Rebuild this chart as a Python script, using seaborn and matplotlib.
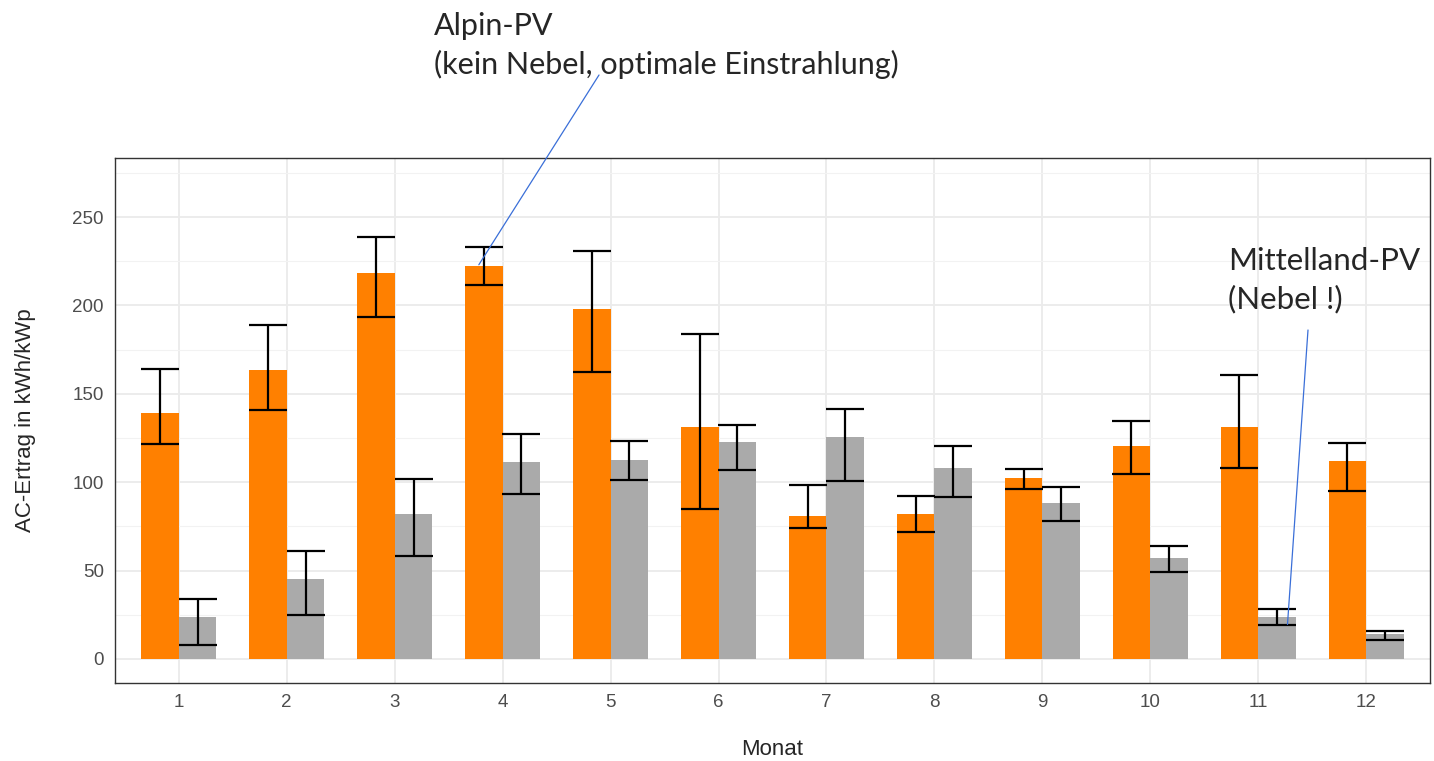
import matplotlib
matplotlib.use("Agg")
import matplotlib.pyplot as plt
import numpy as np
import pandas as pd
import seaborn as sns

# Monthly AC yield per site (kWh/kWp)
months = list(range(1, 13))
alpin_mean = [139, 163.5, 218.5, 222.5, 198, 131, 81, 82, 102.5, 120.5, 131, 112]
alpin_low = [121.5, 141, 193.5, 211.5, 162.5, 85, 74, 72, 96, 104.5, 108, 95]
alpin_high = [164, 189, 238.5, 233, 231, 184, 98.5, 92, 107.5, 134.5, 160.5, 122]
mittel_mean = [23.5, 45, 82, 111.5, 112.5, 122.5, 125.5, 108, 88.5, 57, 23.5, 14]
mittel_low = [8, 25, 58, 93.5, 101.5, 107, 100.5, 91.5, 78, 49, 19, 11]
mittel_high = [34, 61, 102, 127.5, 123.5, 132.5, 141.5, 120.5, 97, 64, 28.5, 16]
sites = ["Alpin-PV", "Mittelland-PV"]

df = pd.DataFrame({
    "Monat": months * 2,
    "Ertrag": alpin_mean + mittel_mean,
    "Anlage": [sites[0]] * 12 + [sites[1]] * 12,
})

sns.set_style("white")
plt.rcParams["font.family"] = ["Liberation Sans", "DejaVu Sans"]

fig = plt.figure(figsize=(14.34, 7.61), dpi=100)
ax = fig.add_axes([0.0802, 0.1025, 0.9170, 0.6899])

sns.barplot(data=df, x="Monat", y="Ertrag", hue="Anlage",
            palette=["#FF8000", "#AAAAAA"], width=0.7, saturation=1,
            errorbar=None, legend=False, linewidth=0, ax=ax, zorder=2)

# error bars from low/high bounds, placed on the drawn bars
lows = [alpin_low, mittel_low]
highs = [alpin_high, mittel_high]
means = [alpin_mean, mittel_mean]
for cont, lo, hi, mu in zip(ax.containers, lows, highs, means):
    xs = [p.get_x() + p.get_width() / 2 for p in cont.patches]
    mu = np.array(mu)
    yerr = [mu - np.array(lo), np.array(hi) - mu]
    ax.errorbar(xs, mu, yerr=yerr, fmt="none", ecolor="black",
                elinewidth=1.6, capsize=13.7, capthick=1.6, zorder=3)

ax.set_xlim(-0.59, 11.59)
ax.set_ylim(-13.6, 283.4)
ax.set_yticks(range(0, 251, 50))
ax.set_yticks(range(25, 276, 50), minor=True)
ax.set_xticks(range(12))
ax.set_xticklabels([str(m) for m in months])

ax.grid(which="major", color="#EBEBEB", lw=1.3, zorder=0)
ax.grid(which="minor", axis="y", color="#F2F2F2", lw=0.8, zorder=0)
ax.set_axisbelow(True)
for s in ax.spines.values():
    s.set_color("#333333")
    s.set_linewidth(1.0)
ax.tick_params(axis="both", which="major", length=4, width=1,
               color="#333333", labelcolor="#4D4D4D", labelsize=13.5, pad=4)
ax.tick_params(axis="both", which="minor", length=0)

ax.set_xlabel("Monat", fontsize=16, labelpad=20)
ax.set_ylabel("AC-Ertrag in kWh/kWp", fontsize=16, labelpad=26)

# callouts
note_font = ["Lato", "DejaVu Sans"]
fig.text(434 / 1434, 1 - 12 / 761, "Alpin-PV\n(kein Nebel, optimale Einstrahlung)",
         fontsize=22, family=note_font, va="top", ha="left", linespacing=1.4)
fig.text(1228 / 1434, 1 - 247 / 761, "Mittelland-PV\n(Nebel !)",
         fontsize=22.5, family=note_font, va="top", ha="left", linespacing=1.4)

line_kw = dict(arrowstyle="-", color="#3A6FD8", lw=0.9, shrinkA=0, shrinkB=0)
ax.annotate("", xy=(3 - 0.22, 223), xycoords="data",
            xytext=(599 / 1434, 1 - 75 / 761), textcoords="figure fraction",
            arrowprops=line_kw, zorder=5)
ax.annotate("", xy=(10 + 0.27, 19.5), xycoords="data",
            xytext=(1308 / 1434, 1 - 330 / 761), textcoords="figure fraction",
            arrowprops=line_kw, zorder=5)

fig.savefig("out.png", dpi=100)
